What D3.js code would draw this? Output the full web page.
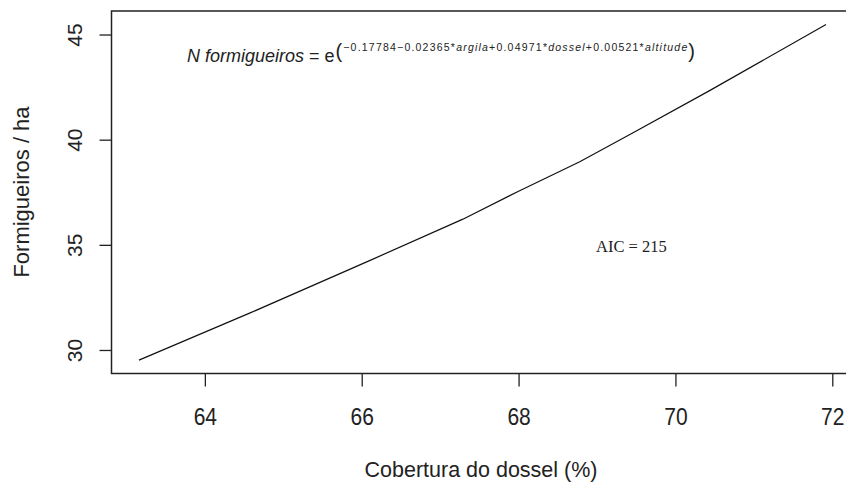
<!DOCTYPE html>
<html>
<head>
<meta charset="utf-8">
<script src="https://cdn.jsdelivr.net/npm/d3@7"></script>
<style>
  html, body { margin: 0; padding: 0; background: #fff; }
  svg { display: block; }
</style>
</head>
<body>
<svg id="chart" width="846" height="486"></svg>
<script>
// Predicted ant nests per hectare along canopy cover
const cover = [63.16, 64.57, 66.10, 67.29, 68.00, 68.78, 69.46, 70.43, 71.92];
const nests = [29.52, 31.75, 34.25, 36.22, 37.55, 38.95, 40.33, 42.32, 45.48];
const xTicks = [64, 66, 68, 70, 72];
const yTicks = [30, 35, 40, 45];
const xTitle = "Cobertura do dossel (%)";
const yTitle = "Formigueiros / ha";
const aicLabel = "AIC = 215";
const eqLeft = [["N formigueiros", "italic"], [" = e", "normal"]];
const eqExponent = [
  ["\u22120.17784\u22120.02365*", "normal"], ["argila", "italic"],
  ["+0.04971*", "normal"], ["dossel", "italic"],
  ["+0.00521*", "normal"], ["altitude", "italic"]
];

const svg = d3.select("#chart");
const sans = "'Liberation Sans', Arial, sans-serif";
const serif = "'Liberation Serif', 'Times New Roman', serif";
const ink = "#222";

// R-style 4% padding of the data range
function padded(vals) {
  const [a, b] = d3.extent(vals);
  const p = (b - a) * 0.04;
  return [a - p, b + p];
}

const plot = { left: 111.5, right: 853.5, top: 11, bottom: 373.5 };
const x = d3.scaleLinear().domain(padded(cover)).range([plot.left, plot.right]);
const y = d3.scaleLinear().domain(padded(nests)).range([plot.bottom, plot.top]);

// Bottom axis
const gx = svg.append("g")
  .attr("transform", `translate(0,${plot.bottom})`)
  .call(d3.axisBottom(x).tickValues(xTicks).tickSize(13).tickPadding(0).tickFormat(d3.format("d")));
gx.select(".domain").remove();
gx.selectAll(".tick line").attr("stroke", ink).attr("stroke-width", 1.3);
gx.selectAll(".tick text").remove();
gx.selectAll(".tick").append("text")
  .attr("fill", ink)
  .attr("font-family", sans)
  .attr("font-size", 21)
  .attr("text-anchor", "middle")
  .attr("transform", "translate(0,51) scale(1,1.17)")
  .text(d => d);

// Left axis with rotated labels
const gy = svg.append("g")
  .attr("transform", `translate(${plot.left},0)`)
  .call(d3.axisLeft(y).tickValues(yTicks).tickSize(12).tickFormat(d3.format("d")));
gy.select(".domain").remove();
gy.selectAll(".tick line").attr("stroke", ink).attr("stroke-width", 1.3);
gy.selectAll(".tick text").remove();
gy.selectAll(".tick").append("text")
  .attr("fill", ink)
  .attr("font-family", sans)
  .attr("font-size", 21)
  .attr("text-anchor", "middle")
  .attr("transform", "translate(-30,0) rotate(-90)")
  .text(d => d);

// Plot frame
svg.append("rect")
  .attr("x", plot.left).attr("y", plot.top)
  .attr("width", plot.right - plot.left).attr("height", plot.bottom - plot.top)
  .attr("fill", "none").attr("stroke", ink).attr("stroke-width", 1.5);

// Fitted curve
const pts = cover.map((c, i) => [c, nests[i]]);
svg.append("path")
  .datum(pts)
  .attr("fill", "none")
  .attr("stroke", "#111")
  .attr("stroke-width", 1.2)
  .attr("d", d3.line().x(d => x(d[0])).y(d => y(d[1])));

// Axis titles
svg.append("text")
  .attr("x", 481).attr("y", 477)
  .attr("text-anchor", "middle")
  .attr("font-family", sans).attr("font-size", 21.5)
  .attr("fill", ink)
  .text(xTitle);

svg.append("text")
  .attr("transform", "translate(29,192) rotate(-90)")
  .attr("text-anchor", "middle")
  .attr("font-family", sans).attr("font-size", 22)
  .attr("fill", ink)
  .text(yTitle);

// AIC annotation
svg.append("text")
  .attr("x", 596).attr("y", 252)
  .attr("font-family", serif).attr("font-size", 16.5)
  .attr("fill", ink)
  .text(aicLabel);

// Model equation
const eq = svg.append("g").attr("fill", ink).attr("font-family", sans);
const lhs = eq.append("text").attr("x", 187).attr("y", 62).attr("font-size", 18);
lhs.selectAll("tspan").data(eqLeft).join("tspan")
  .attr("font-style", d => d[1]).text(d => d[0]);
let cx = 187 + lhs.node().getComputedTextLength() + 1;

const open = eq.append("text").attr("x", cx).attr("y", 57.5).attr("font-size", 20).text("(");
cx += open.node().getComputedTextLength() + 1;

const expo = eq.append("text").attr("x", cx).attr("y", 51).attr("font-size", 10.5)
  .attr("textLength", 344).attr("lengthAdjust", "spacing");
expo.selectAll("tspan").data(eqExponent).join("tspan")
  .attr("font-style", d => d[1]).text(d => d[0]);
cx += 344 + 1;

eq.append("text").attr("x", cx).attr("y", 57.5).attr("font-size", 20).text(")");
</script>
</body>
</html>
